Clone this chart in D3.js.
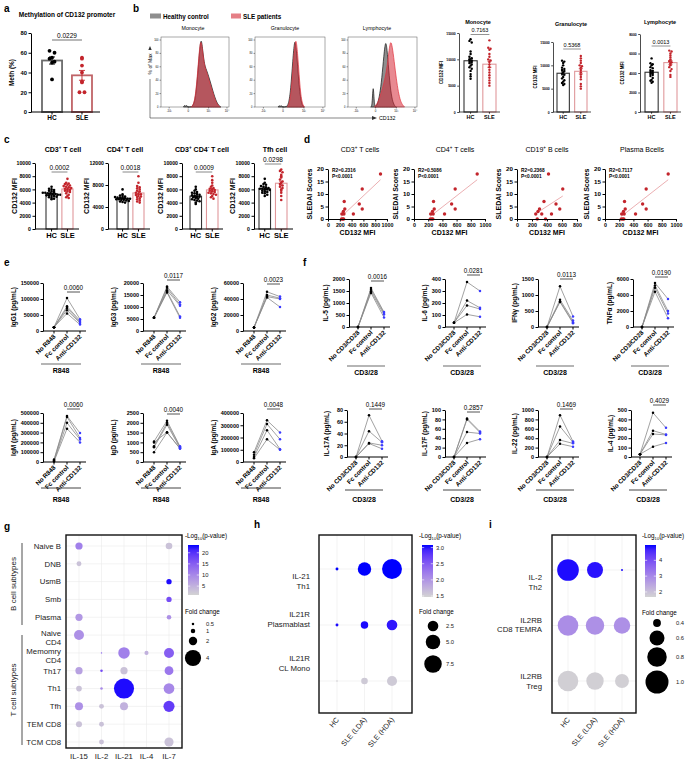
<!DOCTYPE html>
<html><head><meta charset="utf-8">
<script src="https://cdn.jsdelivr.net/npm/d3@7"></script>
<style>body{margin:0;background:#fff}svg{display:block}</style>
</head><body>
<script>
const FONT='"Liberation Sans", Arial, Helvetica, sans-serif';
// ================= DATA =================
// a
const aGroups=["HC","SLE"];
const aHC=[62,60,55,54,51,50,33];
const aSLE=[55,54,47,40,31,30,20,20];
const aTicks=[0,20,40,60,80];
const aP="0.0229";
// b histograms ([position along CD132 axis 0-100, % of max])
const histCells=["Monocyte","Granulocyte","Lymphocyte"];
const histMonoHC=[[33,0],[34.5,3],[36,0.5],[37.5,3],[39,0],[44,0],[47,2],[50,10],[53,35],[56,75],[58,97],[59.5,100],[61,88],[63,70],[65,60],[67,55],[70,46],[73,36],[76,25],[79,15],[82,7],[85,2],[88,0]];
const histMonoSLE=[[44,0],[47,2],[50,12],[53,40],[56,80],[58,98],[59.5,96],[61,85],[63,68],[65,58],[67,52],[70,42],[73,32],[76,22],[79,12],[82,5],[85,1],[87,0]];
const histGranHC=[[33,0],[34.5,2.5],[36,0.5],[37.5,2.5],[39,0],[45,0],[48,4],[51,25],[54,70],[56.5,100],[58,95],[60,75],[62,45],[64,22],[66,8],[68,2],[70,0]];
const histGranSLE=[[46,0],[49,4],[52,25],[55,70],[57.5,98],[59,100],[61,78],[63,48],[65,22],[67,8],[69,2],[71,0]];
const histLymHC=[[33,0],[35,1],[36.5,40],[38,3],[40,0],[43,5],[46,18],[49,42],[52,78],[54.5,100],[56.5,88],[59,55],[62,22],[65,7],[68,1],[70,0]];
const histLymSLE=[[38,0],[42,4],[46,14],[50,28],[53,40],[56,55],[59,80],[61.5,100],[64,92],[67,68],[70,42],[73,22],[76,9],[79,3],[82,0]];
const histXTicks=["-10³","0","10³","10⁴"];
const histXTickPos=[12,40,70,97];
const histYTicks=[0,20,40,60,80,100];
// b bar charts (CD132 MFI)
const bMonoHC=[13800,13500,13200,11500,11000,10500,10200,10000,9800,9700,9500,9300,9000,8800,8500,8200,7800,7200,6800,6300];
const bMonoSLE=[13600,12200,12000,11800,11000,10500,10000,9800,9500,9000,8500,8000,7500,7000,6500,6000,5500,5000];
const bGranHC=[11000,10800,10500,10000,9500,9200,9000,8800,8500,8200,8000,7500,7200,6800,6500,6200,6000,5800];
const bGranSLE=[12000,11500,11000,10500,10000,9800,9500,9000,8500,8000,7500,7000,6000,5500,5000];
const bLymHC=[5500,5000,4900,4800,4600,4500,4300,4200,4100,4000,3900,3800,3700,3500,3300,3200,3100,3000];
const bLymSLE=[6300,6200,6000,5800,5600,5400,5200,5100,5000,4800,4600,4400,4200,3800,3600];
const bP=["0.7163","0.5368","0.0013"];
// c
const cTitles=["CD3","CD4","CD3 CD4","Tfh cell"];
const cCD3HC=[6400,6100,6000,5900,5800,5700,5600,5500,5500,5400,5400,5300,5300,5200,5200,5100,5100,5000,5000,4900,4800,4700,4600,4500];
const cCD3SLE=[7600,7000,6900,6800,6700,6600,6500,6400,6300,6200,6100,6000,5900,5800,5700,5600,5400,5200,5000,4800,4700];
const cCD4HC=[7200,6300,6100,6000,5900,5800,5700,5700,5600,5600,5500,5500,5400,5400,5300,5300,5200,5100,5000,4900,4800];
const cCD4SLE=[9600,8400,7800,7600,7400,7200,7000,6800,6600,6400,6300,6200,6000,5900,5800,5600,5400,5200,5000,4800];
const cCD8HC=[6400,6000,5800,5600,5500,5400,5300,5200,5100,5000,4900,4900,4800,4700,4600,4500,4400,4300,4200,4000,3800];
const cCD8SLE=[8000,7400,7000,6600,6400,6200,6100,6000,5900,5800,5700,5600,5500,5400,5300,5200,5000,4800,4600];
const cTfhHC=[7600,7000,6800,6700,6500,6400,6300,6200,6100,6100,6000,6000,5900,5800,5700,5600,5500,5400,5200,5000];
const cTfhSLE=[9000,8800,8600,8200,8000,7800,7500,7200,7000,6800,6600,6400,6200,6000,5800,5500,5000,4400];
const cP=["0.0002","0.0018","0.0009","0.0298"];
// d ([CD132 MFI, SLEDAI])
const dCD3=[[890,18],[580,12],[275,7],[530,6],[285,4],[580,4],[260,3],[235,2],[270,2],[430,2],[230,0],[250,0],[265,0]];
const dCD4=[[890,18],[580,12],[275,7],[530,6],[285,4],[580,4],[260,3],[235,2],[270,2],[430,2],[230,0],[250,0],[265,0]];
const dCD19=[[420,18],[610,12],[360,7],[520,6],[300,4],[570,4],[280,3],[250,2],[330,2],[460,2],[270,0],[380,0]];
const dPlasma=[[890,18],[580,12],[275,7],[530,6],[285,4],[580,4],[260,3],[235,2],[270,2],[430,2],[230,0],[250,0],[265,0]];
const dR2=["R2=0.2316","R2=0.5086","R2=0.2368","R2=0.7117"];
const dPv=["P<0.0001","P<0.0001","P<0.0001","P<0.0001"];
// e ([No R848, Fc control, Anti-CD132] per donor)
const eCats=["No R848","Fc control","Anti-CD132"];
const eIgG1=[[12000,103000,37000],[12000,77000,32000],[12000,72000,28000],[12000,65000,25000],[12000,55000,20000]];
const eIgG3=[[5500,18500,12000],[5500,18000,11000],[5500,17000,10500],[5500,16500,6000],[5500,16000,5500]];
const eIgG2=[[4500,49000,43000],[4500,45000,41000],[4500,43000,40000],[4500,42000,30000]];
const eIgM=[[25000,470000,295000],[15000,460000,245000],[10000,400000,230000],[5000,340000,200000]];
const eIgD=[[1050,2100,800],[800,2000,750],[750,1900,720],[500,1500,700],[1000,1520,680]];
const eIgA=[[80000,340000,240000],[60000,310000,185000],[40000,260000,105000],[30000,185000,100000]];
const eP=["0.0060","0.0117","0.0023","0.0060","0.0040","0.0048"];
// f
const fCats=["No CD3/CD28","Fc control","Anti-CD132"];
const fIL5=[[0,1620,620],[0,1550,580],[0,1480,520],[0,1420,400]];
const fIL6=[[35,375,300],[35,220,160],[35,180,150],[35,105,85]];
const fIFNg=[[0,1270,330],[0,850,200],[0,800,150],[0,780,120]];
const fTNFa=[[0,5500,3500],[0,5200,2000],[0,4900,1700],[0,4400,1100]];
const fIL17A=[[0,71,27],[0,44,25],[0,24,20],[0,23,14]];
const fIL17F=[[0,82,54],[0,80,52],[0,53,50],[0,30,38]];
const fIL22=[[0,890,330],[0,650,310],[0,360,290],[0,280,220]];
const fIL4=[[30,470,310],[30,280,240],[30,245,235],[30,110,150]];
const fP=["0.0016","0.0281","0.0113","0.0190","0.1449","0.2857","0.1469","0.4029"];
// g ([row, column, fold change, -log10 p])
const gRows=["Naive B","DNB","UsmB","Smb","Plasma","Naive\nCD4","Memomry\nCD4","Th17","Th1","Tfh","TEM CD8","TCM CD8"];
const gCols=["IL-15","IL-2","IL-21","IL-4","IL-7"];
const gData=[["Naive B","IL-15",1.7,11],["Naive B","IL-7",1.55,3],["DNB","IL-15",1.1,3],["UsmB","IL-7",1.2,23],["Smb","IL-7",1.2,17],
["Plasma","IL-15",1.7,8],["Plasma","IL-7",1.0,9],["Naive\nCD4","IL-15",2.4,9],
["Memomry\nCD4","IL-2",0.2,15],["Memomry\nCD4","IL-21",2.8,11],["Memomry\nCD4","IL-4",0.9,5],["Memomry\nCD4","IL-7",2.4,15],
["Th17","IL-15",1.7,7],["Th17","IL-2",0.5,17],["Th17","IL-21",1.7,3],["Th17","IL-7",2.1,12],
["Th1","IL-15",1.3,3],["Th1","IL-2",0.5,10],["Th1","IL-21",5.0,23],["Th1","IL-7",2.6,10],
["Tfh","IL-15",1.9,9],["Tfh","IL-2",1.1,3],["Tfh","IL-21",1.9,5],["Tfh","IL-7",2.7,19],
["TEM CD8","IL-15",1.4,3],["TEM CD8","IL-2",1.1,3],["TCM CD8","IL-2",1.1,3],["TCM CD8","IL-7",2.2,3]];
const gColorTicks=[5,10,15,20];
const gSizeTicks=[0.5,1,2,4];
// h
const hRows=["IL-21\nTh1","IL21R\nPlasmablast","IL21R\nCL Mono"];
const hCols=["HC","SLE (LDA)","SLE (HDA)"];
const hData=[["IL-21\nTh1","HC",0.15,3.08],["IL-21\nTh1","SLE (LDA)",4.2,3.08],["IL-21\nTh1","SLE (HDA)",9.9,3.08],
["IL21R\nPlasmablast","HC",0.15,3.05],["IL21R\nPlasmablast","SLE (LDA)",1.1,3.05],["IL21R\nPlasmablast","SLE (HDA)",2.5,3.0],
["IL21R\nCL Mono","HC",0.1,1.5],["IL21R\nCL Mono","SLE (LDA)",0.83,1.55],["IL21R\nCL Mono","SLE (HDA)",2.2,1.55]];
const hColorTicks=[1.5,2.0,2.5,3.0];
const hSizeTicks=[2.5,5.0,7.5];
// i
const iRows=["IL-2\nTh2","IL2RB\nCD8 TEMRA","IL2RB\nTreg"];
const iCols=["HC","SLE (LDA)","SLE (HDA)"];
const iData=[["IL-2\nTh2","HC",0.92,4.9],["IL-2\nTh2","SLE (LDA)",0.64,4.85],["IL-2\nTh2","SLE (HDA)",0.35,4.9],
["IL2RB\nCD8 TEMRA","HC",0.86,2.9],["IL2RB\nCD8 TEMRA","SLE (LDA)",0.75,2.85],["IL2RB\nCD8 TEMRA","SLE (HDA)",0.66,2.85],
["IL2RB\nTreg","HC",0.86,1.75],["IL2RB\nTreg","SLE (LDA)",0.70,1.75],["IL2RB\nTreg","SLE (HDA)",0.56,1.75]];
const iColorTicks=[2,3,4];
const iSizeTicks=[0.4,0.6,0.8,1.0];

// ================= DRAWING =================
const svg=d3.select("body").append("svg").attr("width",685).attr("height",760).attr("font-family",FONT);

function T(g,x,y,s,o={}){
  const t=g.append("text").attr("x",x).attr("y",y).text(s).attr("font-size",o.size||7)
    .attr("text-anchor",o.anchor||"middle").attr("font-weight",o.bold?"bold":"normal").attr("fill",o.fill||"#000");
  if(o.rot!=null) t.attr("transform",`rotate(${o.rot},${x},${y})`);
  return t;
}
function R(g,x,y,parts,o={}){
  const size=o.size||7;
  const t=g.append("text").attr("x",x).attr("y",y).attr("font-size",size)
    .attr("text-anchor",o.anchor||"middle").attr("font-weight",o.bold?"bold":"normal").attr("fill",o.fill||"#000");
  let shift=0;
  parts.forEach(p=>{
    const [s,k]=Array.isArray(p)?p:[p,null];
    const target=k==="sup"?-size*0.4:(k==="sub"?size*0.25:0);
    const ts=t.append("tspan").text(s).attr("dy",target-shift);
    if(k) ts.attr("font-size",size*0.65);
    shift=target;
  });
  if(o.rot!=null) t.attr("transform",`rotate(${o.rot},${x},${y})`);
  return t;
}
function styleAx(sel,fs,sw,bold=true){
  sel.attr("font-family",FONT).attr("font-size",fs).attr("font-weight",bold?"bold":"normal");
  sel.select(".domain").attr("stroke-width",sw);
  sel.selectAll(".tick line").attr("stroke-width",sw);
}
function L(g,x1,y1,x2,y2,c="#000",w=1){return g.append("line").attr("x1",x1).attr("y1",y1).attr("x2",x2).attr("y2",y2).attr("stroke",c).attr("stroke-width",w);}

// panel letters
[["a",4,12],["b",133,12],["c",4,143],["d",304,143],["e",4,266],["f",303,266],["g",4,530],["h",254,528],["i",489,528]]
  .forEach(([s,x,y])=>T(svg,x,y,s,{size:10,bold:true,anchor:"start"}));

// ---------- bar + dot ----------
function barDot(o){
  const g=svg.append("g");
  const y=d3.scaleLinear().domain([0,o.max]).range([o.yBot,o.yTop]);
  const x=d3.scaleBand().domain(o.groups.map(d=>d.name)).range(o.xr).paddingInner(o.pad??0.3);
  const bw=x.bandwidth();
  o.groups.forEach(gr=>{
    const m=d3.mean(gr.vals), se=d3.deviation(gr.vals)/Math.sqrt(gr.vals.length);
    g.append("rect").attr("x",x(gr.name)).attr("y",y(m)).attr("width",bw).attr("height",o.yBot-y(m))
      .attr("fill","#fff").attr("stroke",gr.stroke).attr("stroke-width",o.bsw);
    const cx=x(gr.name)+bw/2;
    const pts=gr.vals.map(v=>({v,py:y(v)}));
    const bins=d3.group(pts,d=>Math.round(d.py/o.binH));
    bins.forEach(arr=>arr.forEach((d,k)=>d.px=cx+(k-(arr.length-1)/2)*o.dx));
    g.selectAll(null).data(pts).join("circle").attr("cx",d=>d.px).attr("cy",d=>d.py).attr("r",o.r).attr("fill",gr.pt);
    const eb=g.append("g").attr("stroke",gr.pt).attr("stroke-width",o.ebw||0.8);
    eb.append("line").attr("x1",cx).attr("x2",cx).attr("y1",y(m-se)).attr("y2",y(m+se));
    [m-se,m+se].forEach(v=>eb.append("line").attr("x1",cx-o.cap).attr("x2",cx+o.cap).attr("y1",y(v)).attr("y2",y(v)));
  });
  const ya=g.append("g").attr("transform",`translate(${o.axisX},0)`)
    .call(d3.axisLeft(y).tickValues(o.ticks).tickSize(o.tk).tickSizeOuter(0).tickPadding(1.5).tickFormat(d3.format("d")));
  styleAx(ya,o.fs,o.asw);
  L(g,o.axisX,o.yBot,o.xEnd,o.yBot,"#000",o.asw);
  o.groups.forEach(gr=>{
    const cx=x(gr.name)+bw/2;
    L(g,cx,o.yBot,cx,o.yBot+o.tk,"#000",o.asw);
    T(g,cx,o.xly,gr.name,{size:o.xfs,bold:true});
  });
  const c0=x(o.groups[0].name)+bw/2, c1=x(o.groups[1].name)+bw/2;
  L(g,c0,o.pY,c1,o.pY,o.pc||"#666",o.pw||1);
  T(g,(c0+c1)/2,o.pY-2.5,o.p,{size:o.pfs});
  if(o.titleParts) R(g,o.tx,o.ty,o.titleParts,{size:o.tfs,bold:true});
  T(g,o.ylx,(o.yTop+o.yBot)/2,o.ylab,{size:o.yfs,bold:true,rot:-90});
}
const HCc={stroke:"#333",pt:"#000"}, SLEc={stroke:"#e0989b",pt:"#c3252c"};

// panel a
barDot({max:80,ticks:aTicks,yTop:33,yBot:112,axisX:31,xr:[42,92],pad:0.33,xEnd:100,bsw:1.8,asw:1,tk:2.5,fs:5.8,
  groups:[{name:aGroups[0],vals:aHC,stroke:"#6b6b6b",pt:"#000"},{name:aGroups[1],vals:aSLE,stroke:"#c06468",pt:"#c3252c"}],
  r:1.9,binH:4,dx:5,cap:3,ebw:0.9,xly:120,xfs:6.5,pY:40,p:aP,pfs:6.5,pc:"#888",pw:1.2,
  titleParts:["Methylation of CD132 promoter"],tx:67,ty:17,tfs:6.5,ylx:14,ylab:"Meth (%)",yfs:6.5});

// panel b bars
const bCfg=[
  {vals:[bMonoHC,bMonoSLE],max:15000,ticks:[0,5000,10000,15000],yTop:33,axisX:459,xr:[464,496],xEnd:500,pY:34.5,tx:478,ty:24,ylx:443},
  {vals:[bGranHC,bGranSLE],max:15000,ticks:[0,5000,10000,15000],yTop:42,axisX:553,xr:[557,587],xEnd:591,pY:49,tx:571,ty:26,ylx:537},
  {vals:[bLymHC,bLymSLE],max:8000,ticks:[0,2000,4000,6000,8000],yTop:34,axisX:640,xr:[645,677],xEnd:681,pY:46,tx:660,ty:24,ylx:624}];
bCfg.forEach((c,i)=>barDot({max:c.max,ticks:c.ticks,yTop:c.yTop,yBot:112,axisX:c.axisX,xr:c.xr,pad:0.3,xEnd:c.xEnd,bsw:1.1,asw:0.7,tk:1.8,fs:3.4,
  groups:[{name:"HC",vals:c.vals[0],...HCc},{name:"SLE",vals:c.vals[1],...SLEc}],
  r:1.2,binH:2.2,dx:2.3,cap:2,xly:119,xfs:5.5,pY:c.pY,p:bP[i],pfs:5.5,pc:"#777",pw:0.8,
  titleParts:[histCells[i]],tx:c.tx,ty:c.ty,tfs:5.5,ylx:c.ylx,ylab:"CD132 MFI",yfs:4.5}));

// panel b histograms
const hgBoxes=[[161,229],[255,325],[348,417]];
const hgCurves=[[histMonoHC,histMonoSLE],[histGranHC,histGranSLE],[histLymHC,histLymSLE]];
const hgTitleX=[193,285,377];
hgBoxes.forEach(([x0,x1],i)=>{
  const g=svg.append("g");
  const y0=37,y1=107;
  const x=d3.scaleLinear().domain([0,100]).range([x0,x1]);
  const y=d3.scaleLinear().domain([0,100]).range([y1,y0+3]);
  const area=d3.area().x(d=>x(d[0])).y0(y1).y1(d=>y(d[1])).curve(d3.curveBasis);
  g.append("path").attr("d",area(hgCurves[i][0])).attr("fill","#8e8e8e").attr("stroke","#111").attr("stroke-width",0.7);
  g.append("path").attr("d",area(hgCurves[i][1])).attr("fill","rgba(214,40,54,0.55)").attr("stroke","#e2333f").attr("stroke-width",0.7);
  g.append("rect").attr("x",x0).attr("y",y0).attr("width",x1-x0).attr("height",y1-y0).attr("fill","none").attr("stroke","#555").attr("stroke-width",0.5);
  histYTicks.forEach(v=>{L(g,x0-1.5,y(v),x0,y(v),"#000",0.4);T(g,x0-2.5,y(v)+1,String(v),{size:2.6,anchor:"end"});});
  histXTicks.forEach((s,k)=>{const xx=x(histXTickPos[k]);L(g,xx,y1,xx,y1+1.5,"#000",0.4);T(g,xx,y1+5,s,{size:2.8});});
  T(g,hgTitleX[i],30,histCells[i],{size:5.3});
});
// axis arrows & legend b
{
  const g=svg.append("g");
  L(g,150,118,150,79,"#333",0.6);
  L(g,150,118,372,118,"#333",0.6);
  g.append("path").attr("d","M372,116 L377,118 L372,120 Z").attr("fill","#333");
  g.append("path").attr("d","M148.3,50 L150,46 L151.7,50 Z").attr("fill","#333");
  T(g,151.8,64,"% of Max",{size:5,rot:-90});
  T(g,379,120,"CD132",{size:5.3,anchor:"start"});
  g.append("rect").attr("x",150).attr("y",13.5).attr("width",11).attr("height",5).attr("fill","#8e8e8e");
  T(g,163,18.5,"Healthy control",{size:6.3,bold:true,anchor:"start"});
  g.append("rect").attr("x",231).attr("y",13.5).attr("width",10).attr("height",5).attr("fill","#e57f86");
  T(g,243,18.5,"SLE patients",{size:6.3,bold:true,anchor:"start"});
}

// panel c
const cCfg=[
  {vals:[cCD3HC,cCD3SLE],max:10000,ticks:[0,2000,4000,6000,8000,10000],axisX:35,xr:[46,73],xEnd:79,pY:172,tx:63,parts:[cTitles[0],["+","sup"],"  T cell"],ylx:17},
  {vals:[cCD4HC,cCD4SLE],max:12000,ticks:[0,4000,8000,12000],axisX:108,xr:[117,144],xEnd:150,pY:172,tx:125,parts:["CD4",["+","sup"]," T cell"],ylx:89},
  {vals:[cCD8HC,cCD8SLE],max:10000,ticks:[0,2000,4000,6000,8000,10000],axisX:182,xr:[190,218],xEnd:223,pY:172,tx:202,parts:["CD3",["+","sup"]," CD4",["-","sup"]," T cell"],ylx:163},
  {vals:[cTfhHC,cTfhSLE],max:10000,ticks:[0,2000,4000,6000,8000,10000],axisX:254,xr:[259,287],xEnd:293,pY:164,tx:275,parts:[cTitles[3]],ylx:235}];
cCfg.forEach((c,i)=>barDot({max:c.max,ticks:c.ticks,yTop:163,yBot:229,axisX:c.axisX,xr:c.xr,pad:0.3,xEnd:c.xEnd,bsw:1.1,asw:1,tk:2.5,fs:5.2,
  groups:[{name:"HC",vals:c.vals[0],...HCc},{name:"SLE",vals:c.vals[1],...SLEc}],
  r:1.3,binH:2.2,dx:2.5,cap:2.2,xly:237.5,xfs:7.5,pY:c.pY,p:cP[i],pfs:6.5,pc:"#888",pw:1,
  titleParts:c.parts,tx:c.tx,ty:152,tfs:7,ylx:c.ylx,ylab:"CD132 MFI",yfs:7}));

// panel d
function scat(o){
  const g=svg.append("g");
  const x=d3.scaleLinear().domain([0,o.xmax]).range([o.x0,o.x1]);
  const y=d3.scaleLinear().domain([0,20]).range([219,169]);
  const xs=o.pts.map(d=>d[0]), ys=o.pts.map(d=>d[1]);
  const mx=d3.mean(xs), my=d3.mean(ys);
  const b=d3.sum(o.pts,d=>(d[0]-mx)*(d[1]-my))/d3.sum(o.pts,d=>(d[0]-mx)**2);
  const a=my-b*mx;
  const [lo,hi]=d3.extent(xs);
  L(g,x(lo),y(a+b*lo),x(hi),y(a+b*hi),"#e69a9e",0.8);
  g.selectAll(null).data(o.pts).join("circle").attr("cx",d=>x(d[0])).attr("cy",d=>y(d[1])).attr("r",1.7).attr("fill","#c3252c");
  const ya=g.append("g").attr("transform",`translate(${o.x0},0)`).call(d3.axisLeft(y).tickValues([0,5,10,15,20]).tickSize(2.5).tickSizeOuter(0).tickPadding(1.5));
  styleAx(ya,6.2,1);
  const xa=g.append("g").attr("transform",`translate(0,219)`).call(d3.axisBottom(x).tickValues(o.xt).tickSize(2.5).tickSizeOuter(0).tickPadding(1.5).tickFormat(d3.format("d")));
  styleAx(xa,5.3,1);
  T(g,(o.x0+o.x1)/2,235,"CD132 MFI",{size:7,bold:true});
  T(g,o.x0-16,194,"SLEDAI Scores",{size:7,bold:true,rot:-90});
  T(g,o.x0+4,172,o.r2,{size:4.8,bold:true,anchor:"start"});
  T(g,o.x0+4,178,o.pv,{size:4.8,bold:true,anchor:"start"});
  R(g,o.tx,152,o.title,{size:7});
}
const xt1000=[0,200,400,600,800,1000];
scat({x0:328,x1:387,xmax:1000,xt:xt1000,pts:dCD3,r2:dR2[0],pv:dPv[0],tx:360,title:["CD3",["+","sup"]," T cells"]});
scat({x0:414,x1:485,xmax:1000,xt:xt1000,pts:dCD4,r2:dR2[1],pv:dPv[1],tx:455,title:["CD4",["+","sup"]," T cells"]});
scat({x0:517,x1:577,xmax:800,xt:[0,200,400,600,800],pts:dCD19,r2:dR2[2],pv:dPv[2],tx:547,title:["CD19",["+","sup"]," B cells"]});
scat({x0:605,x1:676,xmax:1000,xt:xt1000,pts:dPlasma,r2:dR2[3],pv:dPv[3],tx:642,title:["Plasma Bcells"]});

// panels e, f
function paired(o){
  const g=svg.append("g");
  const y=d3.scaleLinear().domain([0,o.max]).range([o.yBot,o.yTop]);
  const x=d3.scalePoint().domain(o.cats).range([o.axisX+o.o0,o.axisX+o.o1]);
  const line=d3.line().x((d,i)=>x(o.cats[i])).y(d=>y(d));
  g.selectAll(null).data(o.data).join("path").attr("d",line).attr("fill","none").attr("stroke","#8a8a8a").attr("stroke-width",0.8);
  o.data.forEach(row=>row.forEach((v,i)=>g.append("circle").attr("cx",x(o.cats[i])).attr("cy",y(v)).attr("r",1.25).attr("fill",i===2?"#3b3bff":"#000")));
  const ya=g.append("g").attr("transform",`translate(${o.axisX},0)`)
    .call(d3.axisLeft(y).tickValues(o.ticks).tickSize(2.5).tickSizeOuter(0).tickPadding(1.5).tickFormat(d3.format("d")));
  styleAx(ya,5.5,1);
  const xe=x(o.cats[2])+6;
  L(g,o.axisX,o.yBot,xe,o.yBot,"#000",1);
  o.cats.forEach(c=>{
    L(g,x(c),o.yBot,x(c),o.yBot+2.5,"#000",1);
    T(g,x(c)+2,o.yBot+6,c,{size:6.3,bold:true,anchor:"end",rot:-45});
  });
  L(g,o.axisX-2,o.uy,x(o.cats[2])+1,o.uy,o.uc,o.uw);
  T(g,(o.axisX-2+x(o.cats[2])+1)/2,o.uty,o.group,{size:7,bold:true});
  L(g,x(o.cats[1]),o.pY,x(o.cats[2]),o.pY,"#555",1);
  T(g,(x(o.cats[1])+x(o.cats[2]))/2,o.pY-2.5,o.p,{size:6.3});
  T(g,o.ylx,(o.yTop+o.yBot)/2,o.ylab,{size:6.5,bold:true,rot:-90});
}
const tk=(m,s)=>d3.range(0,m+s/2,s);
const eRow1={yTop:283,yBot:331,uy:364,uty:373,uc:"#b5b5b5",uw:2.2};
const eRow2={yTop:413,yBot:462,uy:488,uty:502,uc:"#444",uw:1};
[[eIgG1,150000,50000,43,"IgG1 (pg/mL)",292,eRow1],[eIgG3,20000,5000,143,"IgG3 (pg/mL)",280,eRow1],[eIgG2,60000,20000,243,"IgG2 (pg/mL)",284,eRow1],
 [eIgM,500000,100000,43,"IgM (pg/mL)",409,eRow2],[eIgD,2500,500,143,"IgD (pg/mL)",414,eRow2],[eIgA,400000,100000,243,"IgA (pg/mL)",409,eRow2]]
.forEach(([data,max,step,ax,lab,py,row],i)=>paired({data,max,ticks:tk(max,step),axisX:ax,o0:11,o1:37,cats:eCats,ylab:lab,ylx:ax-27,
  pY:py,p:eP[i],group:"R848",...row}));
const fRow1={yTop:279,yBot:327,uy:366,uty:375,uc:"#b5b5b5",uw:2.2};
const fRow2={yTop:410,yBot:457,uy:490,uty:502,uc:"#444",uw:1};
[[fIL5,2000,500,349,"IL-5 (pg/mL)",281,fRow1],[fIL6,400,100,445,"IL-6 (pg/mL)",275,fRow1],[fIFNg,1500,500,538,"IFNγ (pg/mL)",279,fRow1],[fTNFa,6000,2000,633,"TNFα (pg/mL)",277,fRow1],
 [fIL17A,80,20,347,"IL-17A (pg/mL)",409,fRow2],[fIL17F,100,20,445,"IL-17F  (pg/mL)",412,fRow2],[fIL22,1000,200,538,"IL-22 (pg/mL)",409,fRow2],[fIL4,500,100,631,"IL-4 (pg/mL)",405,fRow2]]
.forEach(([data,max,step,ax,lab,py,row],i)=>paired({data,max,ticks:tk(max,step),axisX:ax,o0:9,o1:35,cats:fCats,ylab:lab,ylx:ax-(String(max).length>=4?21:18),
  pY:py,p:fP[i],group:"CD3/28",...row}));

// panels g, h, i
function bubble(o){
  const g=svg.append("g");
  const [bx0,bx1,by0,by1]=o.box;
  const x=d3.scalePoint().domain(o.cols).range(o.xr);
  const y=d3.scalePoint().domain(o.rows).range(o.yr);
  const col=d3.scaleLinear().domain(o.cdom).range(["#d3d3d3","#0000ff"]).interpolate(d3.interpolateLab).clamp(true);
  o.cols.forEach(c=>L(g,x(c),by0,x(c),by1,"#ebebeb",0.6));
  o.rows.forEach(r=>L(g,bx0,y(r),bx1,y(r),"#ebebeb",0.6));
  g.selectAll(null).data(o.data).join("circle").attr("cx",d=>x(d[1])).attr("cy",d=>y(d[0])).attr("r",d=>o.rs(d[2])).attr("fill",d=>col(d[3]));
  g.append("rect").attr("x",bx0).attr("y",by0).attr("width",bx1-bx0).attr("height",by1-by0).attr("fill","none").attr("stroke","#111").attr("stroke-width",1.4);
  o.rows.forEach((r,k)=>{
    const lines=r.split("\n");
    const off=o.labOff?o.labOff[k]:0;
    const c0=y(r)+off-(lines.length-1)*o.lh/2;
    lines.forEach((s,j)=>T(g,o.rlx,c0+j*o.lh+2.8,s,{size:7.8,anchor:"end",fill:"#222"}));
  });
  o.cols.forEach(c=>{
    if(o.rotCols) T(g,x(c)+2.5,by1+7,c,{size:7.3,anchor:"end",rot:-50,fill:"#222"});
    else T(g,x(c),by1+11,c,{size:7.8,fill:"#222"});
  });
  const [lx,ly]=o.leg;
  R(g,lx,ly,["-Log",["10","sub"],"(p-value)"],{size:6.3,anchor:"start"});
  const cb=d3.scaleLinear().domain(o.cdom).range([o.cb[1],o.cb[0]]);
  const gid="grad"+o.id;
  const grad=svg.append("defs").append("linearGradient").attr("id",gid).attr("x1",0).attr("x2",0).attr("y1",1).attr("y2",0);
  d3.range(0,1.0001,0.1).forEach(t=>grad.append("stop").attr("offset",t).attr("stop-color",col(o.cdom[0]+t*(o.cdom[1]-o.cdom[0]))));
  g.append("rect").attr("x",lx+3).attr("y",o.cb[0]).attr("width",11).attr("height",o.cb[1]-o.cb[0]).attr("fill",`url(#${gid})`);
  o.cticks.forEach(v=>{
    L(g,lx+3,cb(v),lx+5.2,cb(v),"#fff",0.6);L(g,lx+11.8,cb(v),lx+14,cb(v),"#fff",0.6);
    T(g,lx+17,cb(v)+2,o.cfmt(v),{size:5.8,anchor:"start",fill:"#222"});
  });
  T(g,lx,o.szTitleY,"Fold change",{size:6.3,anchor:"start"});
  o.sticks.forEach((v,k)=>{
    g.append("circle").attr("cx",o.szX).attr("cy",o.szY[k]).attr("r",o.rs(v)).attr("fill","#000");
    T(g,o.szLX,o.szY[k]+2,o.sfmt(v),{size:5.8,anchor:"start",fill:"#222"});
  });
}
function areaPal(dmin,dmax,rmin,rmax){
  const t=d3.scaleLinear().domain([dmin,dmax]).range([0,1]).clamp(true);
  const s=d3.scaleSqrt().domain([0,1]).range([rmin,rmax]);
  return v=>s(t(v));
}
{
  const gg=svg.append("g");
  bubble({id:"g",box:[66,182,535,748],cols:gCols,rows:gRows,xr:[79,169],yr:[546,742],data:gData,cdom:[1,23.5],
    rs:d3.scaleLinear().domain([0,4]).range([0.3,8.1]),rlx:61,lh:9.5,
    labOff:[0,0,0,0,0,2.5,3,0,0,0,0,0],leg:[185,538],cb:[545,595],cticks:gColorTicks,cfmt:d3.format("d"),
    szTitleY:614,sticks:gSizeTicks,szX:193,szY:[624,631,641,658],szLX:206,sfmt:d=>String(d)});
  L(gg,22,543,22,625,"#222",0.8);
  L(gg,22,635,22,745,"#222",0.8);
  T(gg,16,584,"B cell subtypes",{size:8,rot:-90,fill:"#222"});
  T(gg,16,690,"T cell subtypes",{size:8,rot:-90,fill:"#222"});
}
bubble({id:"h",box:[319,412,535,713],cols:hCols,rows:hRows,xr:[337,392],yr:[569,681],data:hData,cdom:[1.47,3.08],
  rs:areaPal(0.1,10,0.8,10),rlx:310,lh:9.5,labOff:[12,-6,-18],rotCols:true,leg:[419,538],cb:[545,597],cticks:hColorTicks,cfmt:d3.format(".1f"),
  szTitleY:614,sticks:hSizeTicks,szX:433,szY:[626,642,664],szLX:446,sfmt:d3.format(".1f")});
bubble({id:"i",box:[552,636,535,713],cols:iCols,rows:iRows,xr:[568,622],yr:[570,681],data:iData,cdom:[1.68,4.97],
  rs:areaPal(0.35,1.0,1,11.5),rlx:542,lh:9.5,labOff:[12,-1,0],rotCols:true,leg:[642,538],cb:[545,597],cticks:iColorTicks,cfmt:d3.format("d"),
  szTitleY:615,sticks:iSizeTicks,szX:657,szY:[623,638,657,682],szLX:676,sfmt:d3.format(".1f")});
</script>
</body></html>
